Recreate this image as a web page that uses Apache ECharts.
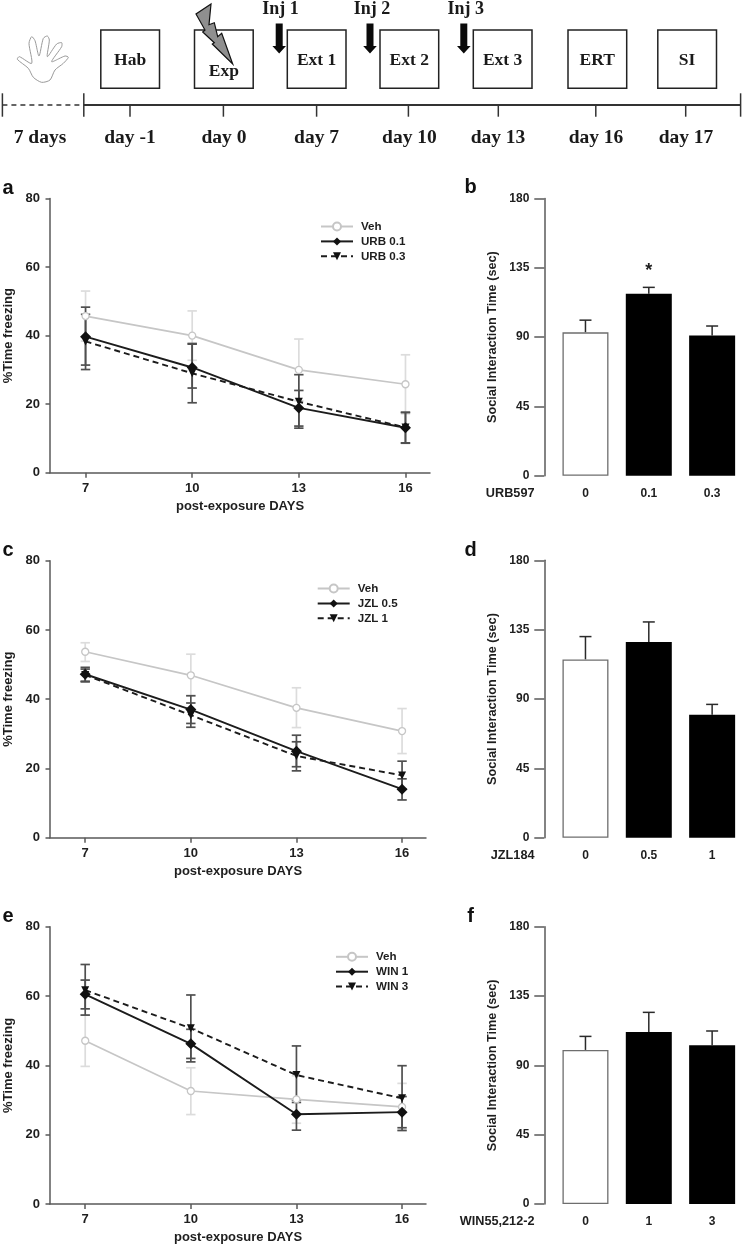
<!DOCTYPE html>
<html><head><meta charset="utf-8">
<style>html,body{margin:0;padding:0;background:#fff}#c{width:742px;height:1247px}</style>
<script src="https://cdn.jsdelivr.net/npm/echarts@6/dist/echarts.min.js"></script>
</head><body><div id="c"></div>
<script>
// ---------- data ----------
const days = [7, 10, 13, 16];

const aNames = ['Veh', 'URB 0.1', 'URB 0.3'];
const aVeh   = [45.7, 40.0, 30.0, 25.8];
const aVehUp = [53.0, 47.2, 39.0, 34.4];
const aVehLo = [38.4, 32.8, 21.0, 17.2];
const aLow   = [39.7, 30.7, 18.9, 13.1];
const aLowUp = [48.3, 37.7, 24.0, 17.6];
const aLowLo = [31.4, 24.7, 13.6, 8.6];
const aHigh   = [38.3, 29.0, 20.7, 13.2];
const aHighUp = [46.2, 37.5, 28.6, 17.6];
const aHighLo = [30.1, 20.4, 13.0, 8.7];

const cNames = ['Veh', 'JZL 0.5', 'JZL 1'];
const cVeh   = [53.7, 46.9, 37.5, 30.8];
const cVehUp = [56.3, 53.0, 43.3, 37.3];
const cVehLo = [50.9, 41.0, 31.8, 24.3];
const cLow   = [47.2, 37.0, 25.0, 14.0];
const cLowUp = [49.2, 41.0, 29.6, 17.0];
const cLowLo = [45.0, 33.0, 20.5, 10.9];
const cHigh   = [47.0, 35.4, 23.6, 18.0];
const cHighUp = [48.7, 38.9, 27.7, 22.1];
const cHighLo = [45.2, 31.9, 19.3, 14.0];

const eNames = ['Veh', 'WIN 1', 'WIN 3'];
const eVeh   = [47.1, 32.6, 30.2, 28.0];
const eVehUp = [54.5, 39.3, 37.0, 34.8];
const eVehLo = [39.7, 25.8, 23.3, 21.3];
const eLow   = [60.5, 46.2, 25.9, 26.5];
const eLowUp = [64.6, 50.4, 30.0, 31.0];
const eLowLo = [56.3, 42.0, 21.3, 22.0];
const eHigh   = [61.7, 50.7, 37.2, 30.5];
const eHighUp = [69.1, 60.3, 45.6, 39.9];
const eHighLo = [54.5, 41.0, 29.3, 21.2];

const bDoses = ['0', '0.1', '0.3'];
const bMeans = [93.1, 118.2, 91.1];
const bErrTop = [101.0, 122.3, 97.2];
const bMarks = ['', '*', ''];

const dDoses = ['0', '0.5', '1'];
const dMeans = [115.7, 127.0, 79.8];
const dErrTop = [130.5, 140.0, 86.5];
const dMarks = ['', '', ''];

const fDoses = ['0', '1', '3'];
const fMeans = [100.0, 111.6, 103.0];
const fErrTop = [108.8, 124.4, 112.3];
const fMarks = ['', '', ''];

const stageLabels = ['Hab', 'Exp', 'Ext 1', 'Ext 2', 'Ext 3', 'ERT', 'SI'];
const dayLabels = ['7 days', 'day -1', 'day 0', 'day 7', 'day 10', 'day 13', 'day 16', 'day 17'];
const injLabels = ['Inj 1', 'Inj 2', 'Inj 3'];

// ---------- styles ----------
const SANS = '"Liberation Sans", Arial, sans-serif';
const SERIF = '"Liberation Serif", "Times New Roman", serif';
const INK = '#1e1e1e', AXIS = '#5a5a5a', VEH = '#c6c6c6', VEHERR = '#dcdcdc', DARKERR = '#4f4f4f';

const grid = [], xAxis = [], yAxis = [], series = [], legend = [], graphic = [];

function errRender(color, capHalf, width) {
  return function (params, api) {
    const x = api.value(0);
    const up = api.coord([x, api.value(2)]);
    const lo = api.coord([x, api.value(1)]);
    const seg = (x1, y1, x2, y2) => ({ type: 'line', shape: { x1, y1, x2, y2 }, style: { stroke: color, lineWidth: width } });
    return { type: 'group', children: [
      seg(up[0], up[1], lo[0], lo[1]),
      seg(up[0] - capHalf, up[1], up[0] + capHalf, up[1]),
      seg(lo[0] - capHalf, lo[1], lo[0] + capHalf, lo[1])
    ] };
  };
}

function linePanel(geo, names, vals) {
  const g = grid.length;
  grid.push({ left: 50, top: geo.top, width: geo.width, height: geo.height, outerBoundsMode: 'none', containLabel: false });
  xAxis.push({
    gridIndex: g, type: 'value', min: 6, max: geo.xMax,
    name: geo.xName || '', nameLocation: 'middle', nameGap: 27,
    nameTextStyle: { fontFamily: SANS, fontWeight: 'bold', fontSize: 13, color: INK },
    splitLine: { show: false },
    axisLine: { onZero: false, lineStyle: { color: AXIS, width: 1.5 } },
    axisTick: { length: 5, customValues: days, lineStyle: { color: AXIS, width: 1.5 } },
    axisLabel: { customValues: days, margin: 9, fontFamily: SANS, fontWeight: 'bold', fontSize: 13, color: INK }
  });
  yAxis.push({
    gridIndex: g, type: 'value', min: 0, max: 80, interval: 20,
    name: '%Time freezing', nameLocation: 'middle', nameGap: 33,
    nameTextStyle: { fontFamily: SANS, fontWeight: 'bold', fontSize: 13, color: INK },
    splitLine: { show: false },
    axisLine: { show: true, lineStyle: { color: AXIS, width: 1.5 } },
    axisTick: { show: true, length: 4.5, lineStyle: { color: AXIS, width: 1.5 } },
    axisLabel: { margin: 10, fontFamily: SANS, fontWeight: 'bold', fontSize: 13, color: INK }
  });
  const base = { xAxisIndex: g, yAxisIndex: g };
  const errData = (u, l) => days.map((d, i) => [d, l[i], u[i]]);
  const errSeries = (u, l, c, z) => Object.assign({
    type: 'custom', silent: true, z, clip: false,
    renderItem: errRender(c, 4.7, 1.7), encode: { x: 0, y: [1, 2] }, data: errData(u, l)
  }, base);
  const pts = m => days.map((d, i) => [d, m[i]]);
  series.push(errSeries(vals.vehUp, vals.vehLo, VEHERR, 2));
  series.push(errSeries(vals.highUp, vals.highLo, DARKERR, 3));
  series.push(errSeries(vals.lowUp, vals.lowLo, DARKERR, 3));
  series.push(Object.assign({
    type: 'line', name: names[0], data: pts(vals.veh), z: 4, symbol: 'circle', symbolSize: 7,
    lineStyle: { color: VEH, width: 1.7 }, itemStyle: { color: '#fff', borderColor: VEH, borderWidth: 1.3 }
  }, base));
  series.push(Object.assign({
    type: 'line', name: names[2], data: pts(vals.high), z: 5, symbol: 'triangle', symbolRotate: 180, symbolSize: 8,
    lineStyle: { color: '#1c1c1c', width: 1.9, type: [6, 4] }, itemStyle: { color: '#111' }
  }, base));
  series.push(Object.assign({
    type: 'line', name: names[1], data: pts(vals.low), z: 6, symbol: 'diamond', symbolSize: 11,
    lineStyle: { color: '#1c1c1c', width: 1.9 }, itemStyle: { color: '#111' }
  }, base));
  legend.push({
    data: names, orient: 'vertical', left: geo.legLeft, top: geo.legTop,
    itemWidth: 32, itemHeight: 10, itemGap: 2.9, padding: 0,
    textStyle: { fontFamily: SANS, fontWeight: 'bold', fontSize: 11.6, color: INK, padding: [0, 0, 0, 3] },
    selectedMode: false
  });
}

function barPanel(geo, doses, means, errTop, marks, drugLabel) {
  const g = grid.length;
  grid.push({ left: 553.8, top: geo.top, width: 190, height: geo.height, outerBoundsMode: 'none', containLabel: false });
  xAxis.push({
    gridIndex: g, type: 'category', data: doses,
    axisLine: { show: false }, axisTick: { show: false }, splitLine: { show: false },
    axisLabel: { margin: 12, fontFamily: SANS, fontWeight: 'bold', fontSize: 12, color: INK }
  });
  yAxis.push({
    gridIndex: g, type: 'value', min: 0, max: 180, interval: 45, offset: 9.5,
    name: 'Social Interaction Time (sec)', nameLocation: 'middle', nameGap: 45,
    nameTextStyle: { fontFamily: SANS, fontWeight: 'bold', fontSize: 12.7, color: INK },
    splitLine: { show: false },
    axisLine: { show: true, lineStyle: { color: AXIS, width: 1.5 } },
    axisTick: { show: true, length: 10, lineStyle: { color: AXIS, width: 1.5 } },
    axisLabel: { margin: 15, fontFamily: SANS, fontWeight: 'bold', fontSize: 12, color: INK }
  });
  series.push({
    type: 'custom', silent: true, z: 1, xAxisIndex: g, yAxisIndex: g, encode: { x: 0, y: 2 },
    data: doses.map((d, i) => [i, means[i], errTop[i], marks[i]]),
    renderItem: function (params, api) {
      const i = api.value(0);
      const t = api.coord([i, api.value(2)]);
      const b = api.coord([i, api.value(1)]);
      const children = [
        { type: 'line', shape: { x1: t[0], y1: t[1], x2: b[0], y2: b[1] }, style: { stroke: '#2a2a2a', lineWidth: 1.5 } },
        { type: 'line', shape: { x1: t[0] - 6, y1: t[1], x2: t[0] + 6, y2: t[1] }, style: { stroke: '#2a2a2a', lineWidth: 1.5 } }
      ];
      const m = marks[i];
      if (m) children.push({ type: 'text', x: t[0], y: t[1] - 16, style: {
        text: m, fontFamily: SANS, fontWeight: 'bold', fontSize: 18, fill: INK, align: 'center', verticalAlign: 'middle' } });
      return { type: 'group', children };
    }
  });
  series.push({
    type: 'bar', xAxisIndex: g, yAxisIndex: g, barWidth: 46, z: 2,
    data: means.map((v, i) => ({
      value: v,
      itemStyle: i === 0 ? { color: '#fff', borderColor: '#6e6e6e', borderWidth: 1.3 } : { color: '#000' }
    }))
  });
  graphic.push({ type: 'text', x: 534.5, y: geo.top + geo.height + 17.8, style: {
    text: drugLabel, fontFamily: SANS, fontWeight: 'bold', fontSize: 12.7, fill: INK, align: 'right', verticalAlign: 'middle' } });
}

linePanel({ top: 198.5, width: 380, height: 274.2, xMax: 16.69, xName: 'post-exposure DAYS', legLeft: 320, legTop: 220.5 }, aNames,
  { veh: aVeh, vehUp: aVehUp, vehLo: aVehLo, low: aLow, lowUp: aLowUp, lowLo: aLowLo, high: aHigh, highUp: aHighUp, highLo: aHighLo });
barPanel({ top: 198.5, height: 277.2 }, bDoses, bMeans, bErrTop, bMarks, 'URB597');
linePanel({ top: 560.7, width: 376, height: 277, xMax: 16.68, xName: 'post-exposure DAYS', legLeft: 316.7, legTop: 582.5 }, cNames,
  { veh: cVeh, vehUp: cVehUp, vehLo: cVehLo, low: cLow, lowUp: cLowUp, lowLo: cLowLo, high: cHigh, highUp: cHighUp, highLo: cHighLo });
barPanel({ top: 560.3, height: 277.4 }, dDoses, dMeans, dErrTop, dMarks, 'JZL184');
linePanel({ top: 926.7, width: 376, height: 277.3, xMax: 16.68, xName: 'post-exposure DAYS', legLeft: 335, legTop: 950.8 }, eNames,
  { veh: eVeh, vehUp: eVehUp, vehLo: eVehLo, low: eLow, lowUp: eLowUp, lowLo: eLowLo, high: eHigh, highUp: eHighUp, highLo: eHighLo });
barPanel({ top: 926.7, height: 277.3 }, fDoses, fMeans, fErrTop, fMarks, 'WIN55,212-2');

// ---------- panel letters ----------
[['a', 8, 188], ['b', 470.5, 187], ['c', 8, 550], ['d', 470.5, 550], ['e', 8, 916], ['f', 470.5, 916]].forEach(p => {
  graphic.push({ type: 'text', x: p[1], y: p[2], style: { text: p[0], fontFamily: SANS, fontWeight: 'bold', fontSize: 20, fill: '#111', align: 'center', verticalAlign: 'middle' } });
});

// ---------- schematic ----------
const boxLefts = [100.8, 194.5, 287.3, 380, 473.3, 568, 657.8];
const boxTextY = [60.7, 71.7, 60.7, 60.7, 60.7, 60.7, 60.7];
stageLabels.forEach((s, i) => {
  graphic.push({ type: 'rect', shape: { x: boxLefts[i], y: 30, width: 58.7, height: 58.3 }, style: { fill: '#fff', stroke: '#222', lineWidth: 1.5 }, z: 1 });
  graphic.push({ type: 'text', x: boxLefts[i] + 29.3, y: boxTextY[i], z: 4, style: { text: s, fontFamily: SERIF, fontWeight: 'bold', fontSize: 17.5, fill: '#1a1a1a', align: 'center', verticalAlign: 'middle' } });
});
const dayX = [40, 130, 224, 316.6, 409.4, 498, 596, 686];
dayLabels.forEach((s, i) => {
  graphic.push({ type: 'text', x: dayX[i], y: 138, style: { text: s, fontFamily: SERIF, fontWeight: 'bold', fontSize: 19.5, fill: '#1a1a1a', align: 'center', verticalAlign: 'middle' } });
});
const line = (x1, y1, x2, y2, w, extra) => graphic.push({ type: 'line', shape: { x1, y1, x2, y2 }, style: Object.assign({ stroke: '#333', lineWidth: w }, extra || {}) });
line(2.4, 105, 83.8, 105, 1.5, { lineDash: [5, 4] });
line(83.8, 105, 740.6, 105, 2);
[2.4, 83.8, 740.6].forEach(x => line(x, 93.3, x, 116.7, 1.5));
[130, 223.4, 316.6, 408.4, 498.3, 595.8, 685.7].forEach(x => line(x, 105, x, 116.7, 1.5));
const injTextX = [280.6, 372, 465.7], arrowX = [279.2, 370, 463.8];
injLabels.forEach((s, i) => {
  graphic.push({ type: 'text', x: injTextX[i], y: 9.3, style: { text: s, fontFamily: SERIF, fontWeight: 'bold', fontSize: 18, fill: '#1a1a1a', align: 'center', verticalAlign: 'middle' } });
  const a = arrowX[i];
  graphic.push({ type: 'polygon', z: 3, shape: { points: [[a - 3.5, 23.5], [a + 3.5, 23.5], [a + 3.5, 46], [a + 6.8, 46], [a, 53.5], [a - 6.8, 46], [a - 3.5, 46]] }, style: { fill: '#0a0a0a' } });
});
// lightning bolt
graphic.push({ type: 'polygon', z: 3, shape: { points: [[211, 4], [196, 14], [205, 30], [202.7, 32], [214.3, 42.7], [212.3, 44], [232.7, 64], [221.7, 33.3], [217.7, 36.7], [214.3, 22.7], [209, 24.7]] }, style: { fill: '#8f8f8f', stroke: '#111', lineWidth: 1.2 } });
// hand outline
const hand = [[125,187],[100,172],[85,145],[52,118],[58,110],[95,130],[87,70],[95,50],[105,62],[117,108],[130,55],[142,48],[148,60],[142,110],[170,72],[185,68],[185,80],[155,125],[195,108],[205,112],[190,130],[165,150],[150,180]].map(p => [p[0] / 3, 20 + p[1] / 3]);
graphic.push({ type: 'polygon', shape: { points: hand, smooth: 0.25 }, style: { fill: '#fff', stroke: '#9a9a9a', lineWidth: 1 } });

const chart = echarts.init(document.getElementById('c'), null, { renderer: 'canvas' });
chart.setOption({ animation: false, backgroundColor: '#fff', tooltip: { show: false }, grid, xAxis, yAxis, legend, series, graphic: { elements: graphic } });
</script></body></html>
